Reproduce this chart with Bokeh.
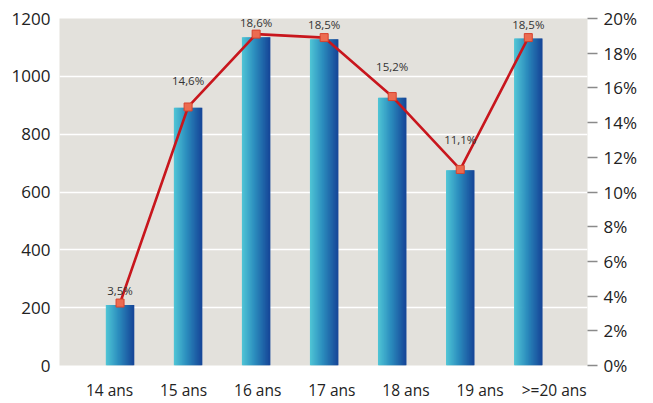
from bokeh.plotting import figure
from bokeh.models import (Range1d, LinearAxis, SingleIntervalTicker,
                          FixedTicker, PrintfTickFormatter, ColumnDataSource)
from bokeh.transform import dodge
from bokeh.core.properties import value
from bokeh.embed import file_html
from bokeh.resources import INLINE

# ---- data ----
categories = ["14 ans", "15 ans", "16 ans", "17 ans", "18 ans", "19 ans", ">=20 ans"]
counts = [209, 891, 1135, 1128, 926, 675, 1131]
share_pct = [3.6, 14.9, 19.1, 18.9, 15.5, 11.3, 18.9]
share_labels = ["3,5%", "14,6%", "18,6%", "18,5%", "15,2%", "11,1%", "18,5%"]
label_lift = [-5, -19, -4, -6, -23, -22, -6]   # label offsets above markers (px)

FONT = "Open Sans"
idx = list(range(len(categories)))

p = figure(width=653, height=403, output_backend="svg", toolbar_location=None,
           x_range=Range1d(-0.89, 6.87), y_range=Range1d(0, 1200),
           x_axis_location=None,
           min_border_left=59, min_border_right=66, min_border_top=18,
           min_border_bottom=34)
p.extra_y_ranges = {"pct": Range1d(0, 20)}
p.extra_x_ranges = {"lab": Range1d(-0.675, 6.45)}

p.background_fill_color = "#e3e1dc"
p.border_fill_color = "white"
p.outline_line_color = None
p.xgrid.grid_line_color = None
p.ygrid.grid_line_color = "white"
p.ygrid.grid_line_width = 1.5
p.ygrid.ticker = SingleIntervalTicker(interval=200)

# left axis
ly = p.yaxis[0]
ly.ticker = SingleIntervalTicker(interval=200)
ly.axis_line_color = None
ly.major_tick_out = 0
ly.major_tick_in = 0
ly.minor_tick_out = 0
ly.minor_tick_in = 0
ly.major_label_standoff = 9
ly.major_label_text_font = FONT
ly.major_label_text_font_size = "17px"
ly.major_label_text_color = "#222222"

# bottom axis (category names)
bx = LinearAxis(x_range_name="lab", ticker=FixedTicker(ticks=idx),
                major_label_overrides={i: c for i, c in zip(idx, categories)})
bx.axis_line_color = None
bx.major_tick_out = 0
bx.major_tick_in = 0
bx.minor_tick_out = 0
bx.minor_tick_in = 0
bx.major_label_standoff = 13
bx.major_label_text_font = FONT
bx.major_label_text_font_size = "15.5px"
bx.major_label_text_color = "#222222"
p.add_layout(bx, "below")

# right axis
ry = LinearAxis(y_range_name="pct", ticker=SingleIntervalTicker(interval=2),
                formatter=PrintfTickFormatter(format="%d%%"))
ry.axis_line_color = None
ry.major_tick_in = 0
ry.major_tick_out = 10
ry.major_tick_line_color = "#8a8a8a"
ry.major_tick_line_width = 1.5
ry.minor_tick_out = 0
ry.minor_tick_in = 0
ry.major_label_standoff = 6
ry.major_label_text_font = FONT
ry.major_label_text_font_size = "17px"
ry.major_label_text_color = "#222222"
p.add_layout(ry, "right")

# ---- gradient bars (drawn as thin vertical slices) ----
src = ColumnDataSource(dict(x=idx, cat=categories, count=counts, pct=share_pct,
                            lab=share_labels, lift=label_lift))

def lerp(c1, c2, t):
    return tuple(int(round(a + (b - a) * t)) for a, b in zip(c1, c2))

stops = [(0.0, (80, 198, 214)), (0.45, (44, 142, 190)), (1.0, (22, 70, 152))]

def grad(t):
    for (t0, c0), (t1, c1) in zip(stops[:-1], stops[1:]):
        if t <= t1:
            return "#%02x%02x%02x" % lerp(c0, c1, (t - t0) / (t1 - t0))
    return "#%02x%02x%02x" % stops[-1][1]

bar_w = 0.41
n = 28
sw = bar_w / n
for i in range(n):
    off = -bar_w / 2 + (i + 0.5) * sw
    p.vbar(x=dodge("x", off), top="count", width=sw * 1.6,
           source=src, fill_color=grad((i + 0.5) / n), line_color=None)

# ---- share line ----
p.line(x="x", y="pct", source=src, y_range_name="pct",
       line_color="#c8161d", line_width=2.6)
p.scatter(x="x", y="pct", source=src, y_range_name="pct", marker="square",
          size=8, fill_color="#ec6b50", line_color="#d8432e", line_width=1)
p.text(x="x", y="pct", text="lab", source=src, y_range_name="pct",
       y_offset="lift", text_align="center", text_baseline="bottom",
       text_font=value(FONT), text_font_size="11.5px", text_color="#333333")

open("out.html", "w").write(file_html(p, INLINE))
